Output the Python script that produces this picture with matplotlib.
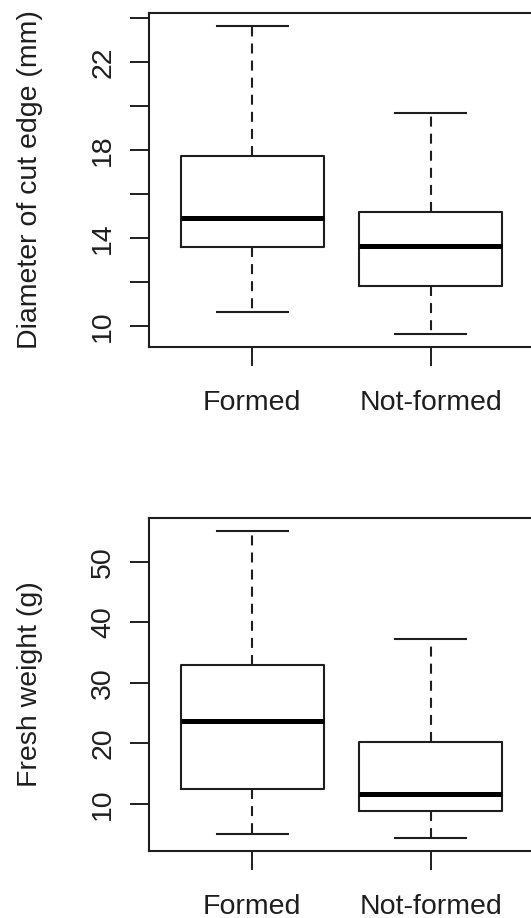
import matplotlib.pyplot as plt

plt.rcParams['font.family'] = ['Liberation Sans', 'DejaVu Sans']

groups = ['Formed', 'Not-formed']

# diameter of cut edge (mm)
diam_low = [10.66, 9.63]
diam_q1 = [13.6, 11.82]
diam_med = [14.9, 13.64]
diam_q3 = [17.74, 15.17]
diam_high = [23.65, 19.67]
diam_ticks = [10, 12, 14, 16, 18, 20, 22, 24]
diam_labels = ['10', '', '14', '', '18', '', '22', '']

# fresh weight (g)
weight_low = [4.94, 4.28]
weight_q1 = [12.4, 8.8]
weight_med = [23.7, 11.55]
weight_q3 = [32.9, 20.25]
weight_high = [55.2, 37.3]
weight_ticks = [10, 20, 30, 40, 50]
weight_labels = ['10', '20', '30', '40', '50']

ink = '#1e1e1e'
W, H = 531, 918


def make_stats(low, q1, med, q3, high):
    stats = []
    for i in range(len(groups)):
        stats.append({'whislo': low[i], 'q1': q1[i], 'med': med[i],
                      'q3': q3[i], 'whishi': high[i], 'fliers': []})
    return stats


def draw_panel(ax, low, q1, med, q3, high, ticks, labels, ylabel):
    ax.bxp(make_stats(low, q1, med, q3, high), positions=[1, 2], widths=0.8,
           showfliers=False,
           boxprops=dict(color=ink, linewidth=1.5),
           medianprops=dict(color='black', linewidth=3.6, solid_capstyle='butt'),
           whiskerprops=dict(color=ink, linewidth=1.5, linestyle=(0, (4.8, 3.4))),
           capprops=dict(color=ink, linewidth=1.5),
           capwidths=0.4)
    # R style axis range: 4% padding
    lo, hi = min(low), max(high)
    pad = (hi - lo) * 0.04
    ax.set_ylim(lo - pad, hi + pad)
    ax.set_xlim(0.42, 2.58)
    ax.set_yticks(ticks)
    ax.set_yticklabels(labels)
    ax.set_xticks([1, 2])
    ax.set_xticklabels(groups)
    ax.tick_params(axis='y', labelrotation=90, length=13.4, width=1.4,
                   color=ink, labelsize=20.5, pad=10, labelcolor=ink)
    ax.tick_params(axis='x', length=13.4, width=1.4, color=ink,
                   labelsize=20.5, pad=17.5, labelcolor=ink)
    for t in ax.get_yticklabels():
        t.set_verticalalignment('center')
    for s in ax.spines.values():
        s.set_color(ink)
        s.set_linewidth(1.5)
    # y label placed in figure coords
    pos = ax.get_position()
    fig.text(30 / W, pos.y0 + pos.height / 2, ylabel, rotation=90,
             ha='center', va='center', fontsize=20.5, color=ink)


fig = plt.figure(figsize=(W / 100, H / 100), dpi=100)
left = 148.8 / W
width = (534 - 148.8) / W

ax1 = fig.add_axes([left, 1 - 346.7 / H, width, (346.7 - 13.3) / H])
draw_panel(ax1, diam_low, diam_q1, diam_med, diam_q3, diam_high,
           diam_ticks, diam_labels, 'Diameter of cut edge (mm)')

ax2 = fig.add_axes([left, 1 - 850.7 / H, width, (850.7 - 518.3) / H])
draw_panel(ax2, weight_low, weight_q1, weight_med, weight_q3, weight_high,
           weight_ticks, weight_labels, 'Fresh weight (g)')

fig.savefig('out.png', dpi=100)
